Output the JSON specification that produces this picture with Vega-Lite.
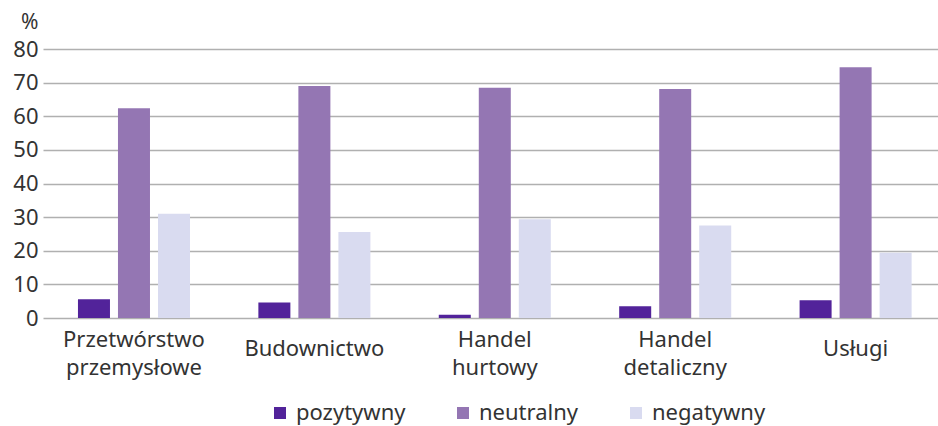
{
  "$schema": "https://vega.github.io/schema/vega-lite/v6.json",
  "width": 895,
  "height": 269,
  "autosize": "none",
  "padding": {"left": 43, "top": 49, "right": 0, "bottom": 108},
  "background": "white",
  "config": {
    "font": "Noto Sans",
    "view": {"stroke": null},
    "axis": {"labelColor": "#333333", "titleColor": "#333333", "labelFont": "Noto Sans", "titleFont": "Noto Sans"},
    "legend": {"labelColor": "#333333", "labelFont": "Noto Sans"}
  },
  "data": {
    "values": [
      {"sektor": "Przetwórstwo przemysłowe", "ocena": "pozytywny", "wartosc": 5.6},
      {"sektor": "Przetwórstwo przemysłowe", "ocena": "neutralny", "wartosc": 62.4},
      {"sektor": "Przetwórstwo przemysłowe", "ocena": "negatywny", "wartosc": 31.0},
      {"sektor": "Budownictwo", "ocena": "pozytywny", "wartosc": 4.6},
      {"sektor": "Budownictwo", "ocena": "neutralny", "wartosc": 69.0},
      {"sektor": "Budownictwo", "ocena": "negatywny", "wartosc": 25.6},
      {"sektor": "Handel hurtowy", "ocena": "pozytywny", "wartosc": 1.0},
      {"sektor": "Handel hurtowy", "ocena": "neutralny", "wartosc": 68.5},
      {"sektor": "Handel hurtowy", "ocena": "negatywny", "wartosc": 29.4},
      {"sektor": "Handel detaliczny", "ocena": "pozytywny", "wartosc": 3.5},
      {"sektor": "Handel detaliczny", "ocena": "neutralny", "wartosc": 68.1},
      {"sektor": "Handel detaliczny", "ocena": "negatywny", "wartosc": 27.5},
      {"sektor": "Usługi", "ocena": "pozytywny", "wartosc": 5.3},
      {"sektor": "Usługi", "ocena": "neutralny", "wartosc": 74.6},
      {"sektor": "Usługi", "ocena": "negatywny", "wartosc": 19.4}
    ]
  },
  "mark": {"type": "bar"},
  "encoding": {
    "x": {
      "field": "sektor",
      "type": "nominal",
      "sort": null,
      "scale": {"paddingInner": 0.379, "paddingOuter": 0.17, "align": 0.57},
      "axis": {
        "title": null,
        "labelAngle": 0,
        "labelExpr": "split(datum.label, ' ')",
        "ticks": false,
        "domain": false,
        "labelFontSize": 22,
        "labelPadding": {"condition": {"test": "indexof(datum.value, ' ') < 0", "value": 30}, "value": 21},
        "labelBaseline": "middle",
        "labelLineHeight": 28,
        "labelLimit": 0
      }
    },
    "xOffset": {
      "field": "ocena",
      "sort": ["pozytywny", "neutralny", "negatywny"],
      "scale": {"paddingInner": 0.2, "paddingOuter": 0}
    },
    "y": {
      "field": "wartosc",
      "type": "quantitative",
      "scale": {"domain": [0, 80]},
      "axis": {
        "values": [0, 10, 20, 30, 40, 50, 60, 70, 80],
        "title": "%",
        "titleAngle": 0,
        "titleAlign": "right",
        "titleBaseline": "alphabetic",
        "titleX": -5,
        "titleY": -21,
        "titleFontSize": 21,
        "titleFontWeight": "normal",
        "grid": true,
        "gridColor": "#b0b0b0",
        "gridWidth": 1.6,
        "domain": false,
        "ticks": false,
        "labelPadding": 5,
        "labelFontSize": 22
      }
    },
    "color": {
      "field": "ocena",
      "type": "nominal",
      "sort": ["pozytywny", "neutralny", "negatywny"],
      "scale": {
        "domain": ["pozytywny", "neutralny", "negatywny"],
        "range": ["#52239a", "#9476b3", "#d9dbf0"]
      },
      "legend": {
        "title": null,
        "orient": "none",
        "direction": "horizontal",
        "legendX": 226,
        "legendY": 353,
        "symbolType": "square",
        "symbolSize": 144,
        "symbolStrokeWidth": 0,
        "labelFontSize": 22,
        "labelOffset": 5,
        "columnPadding": 46
      }
    }
  }
}
